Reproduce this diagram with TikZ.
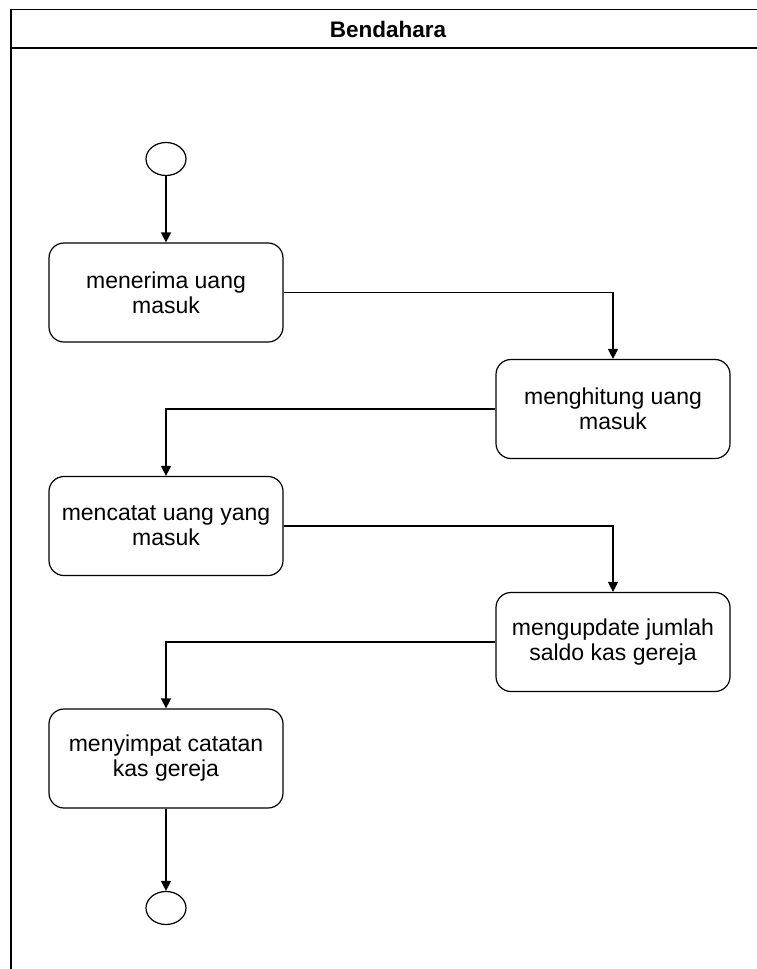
\documentclass[tikz,border=0pt]{standalone}
\usepackage{fontspec}
\setmainfont{Liberation Sans}
\usetikzlibrary{arrows.meta,shapes.geometric}
\begin{document}
\begin{tikzpicture}[x=1pt,y=-1pt,line width=1.2pt,
        act/.style={draw,rounded corners=15pt,minimum width=234pt,minimum height=99pt,
                text width=216pt,align=flush center,inner sep=4pt,
                font=\fontsize{23}{25}\selectfont},
        state/.style={draw,ellipse,minimum width=40pt,minimum height=33pt,inner sep=0pt},
        flow/.style={-{Triangle[length=10pt,width=10pt]}}]
        \useasboundingbox (0,0) rectangle (757,969);
        \clip (0,0) rectangle (757,969);
        \draw [line width=1.5pt] (11,9.5) rectangle (765,1000);
        \draw [line width=1.5pt] (11,48) -- (765,48);
        \node (title) at (388,29) {\fontsize{22.5}{25}\selectfont\bfseries Bendahara};

        \node [state] (start) at (166,159) {};
        \node [act] (terima) at (166,292.5) {menerima uang masuk};
        \node [act] (hitung) at (613,409) {menghitung uang masuk};
        \node [act] (catat) at (166,526) {mencatat uang yang masuk};
        \node [act] (update) at (613,642) {mengupdate jumlah saldo kas gereja};
        \node [act] (simpan) at (166,758.5) {menyimpat catatan kas gereja};
        \node [state] (end) at (166,908) {};

        \draw [flow] (start) -- (terima);
        \draw [flow] (terima.east) -| (hitung.north);
        \draw [flow] (hitung.west) -| (catat.north);
        \draw [flow] (catat.east) -| (update.north);
        \draw [flow] (update.west) -| (simpan.north);
        \draw [flow] (simpan) -- (end);
\end{tikzpicture}
\end{document}
